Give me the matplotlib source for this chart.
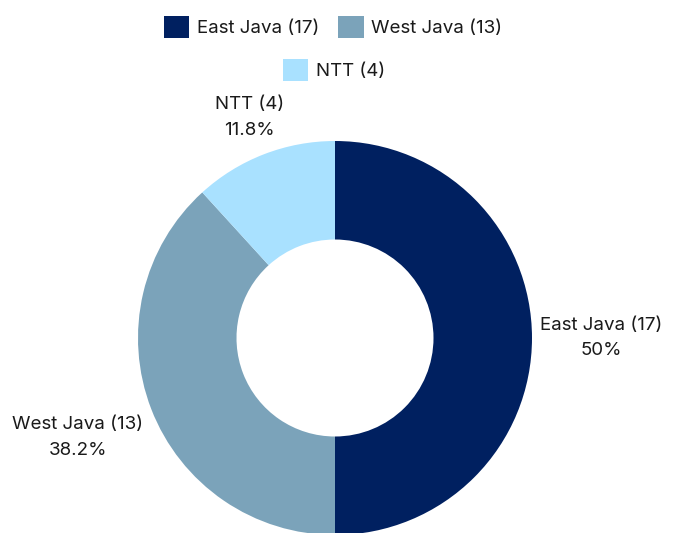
import numpy as np
import matplotlib.pyplot as plt
from matplotlib.patches import Patch

plt.rcParams['font.family'] = ['Inter', 'DejaVu Sans']

# ── data ──────────────────────────────────────────
regions = ["East Java", "West Java", "NTT"]
counts = [17, 13, 4]
pct_labels = ["50%", "38.2%", "11.8%"]
colors = ["#002060", "#7BA3BA", "#A9E1FF"]

# label distance (in radii) per wedge
label_dist = [1.35, 1.40, 1.20]

W, H = 675, 533
fig = plt.figure(figsize=(W / 100, H / 100), dpi=100, facecolor="white")
ax = fig.add_axes([0, 0, 1, 1])

cx, cy, r = 335, H - 338, 197
wedges, _ = ax.pie(
    counts,
    colors=colors,
    startangle=90,
    counterclock=False,
    center=(cx, cy),
    radius=r,
    wedgeprops=dict(width=r * 0.5, edgecolor="none"),
    frame=True,
)
ax.set_xlim(0, W)
ax.set_ylim(0, H)
ax.set_aspect("equal")
ax.axis("off")

for w, name, n, p, d in zip(wedges, regions, counts, pct_labels, label_dist):
    ang = np.deg2rad((w.theta1 + w.theta2) / 2)
    x = cx + d * r * np.cos(ang)
    y = cy + d * r * np.sin(ang)
    ax.text(x, y, f"{name} ({n})\n{p}", ha="center", va="center",
            fontsize=13.5, color="#1a1a1a", linespacing=1.65)

labels = [f"{name} ({n})" for name, n in zip(regions, counts)]
handles = [Patch(facecolor=c, edgecolor="none") for c in colors]

leg_kw = dict(frameon=False, fontsize=13.5, handlelength=1.35, handleheight=1.35,
              handletextpad=0.4, columnspacing=1.05, borderaxespad=0,
              labelcolor="#1a1a1a")
leg1 = fig.legend(handles[:2], labels[:2], ncol=2, loc="center",
                  bbox_to_anchor=(333 / W, 1 - 27 / H), **leg_kw)
leg2 = fig.legend(handles[2:], labels[2:], ncol=1, loc="center",
                  bbox_to_anchor=(334 / W, 1 - 70 / H), **leg_kw)

fig.savefig("out.png", dpi=100, facecolor="white")
